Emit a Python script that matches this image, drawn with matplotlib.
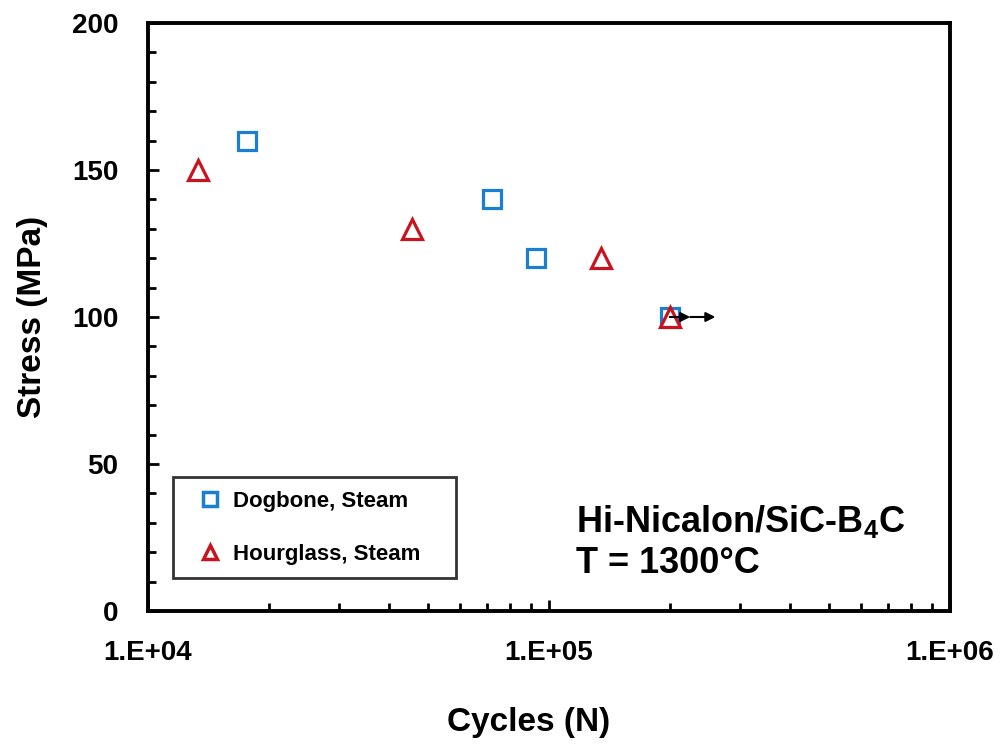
import matplotlib
matplotlib.use("Agg")
import matplotlib.pyplot as plt
from matplotlib.ticker import FixedLocator, NullFormatter, LogLocator

plt.rcParams['font.family'] = ['Liberation Sans', 'DejaVu Sans']
plt.rcParams['font.weight'] = 'bold'
plt.rcParams['mathtext.fontset'] = 'custom'
plt.rcParams['mathtext.rm'] = 'Liberation Sans'
plt.rcParams['mathtext.bf'] = 'Liberation Sans:bold'

# data
dog_cycles = [1.77e4, 7.2e4, 9.3e4, 2.0e5]
dog_stress = [160, 140, 120, 100]
hour_cycles = [1.33e4, 4.55e4, 1.35e5, 2.0e5]
hour_stress = [150, 130, 120, 100]
runout_cycles = [2.0e5, 2.25e5, 2.6e5]
runout_stress = [100, 100, 100]

blue = '#1a7fd0'
red = '#c8141e'

fig = plt.figure(figsize=(10.05, 7.44), dpi=100)
ax = fig.add_axes([148/1005, 1-611/744, 802/1005, 588/744])

ax.plot(dog_cycles, dog_stress, 's', ms=13, mfc='white', mec=blue, mew=2.3,
        linestyle='none', label='Dogbone, Steam', zorder=3)
ax.plot(hour_cycles, hour_stress, '^', ms=15, mfc='white', mec=red, mew=2.3,
        linestyle='none', label='Hourglass, Steam', zorder=4)

# run-out arrows
for i in range(len(runout_cycles) - 1):
    ax.annotate('', xy=(runout_cycles[i+1], runout_stress[i+1]),
                xytext=(runout_cycles[i], runout_stress[i]),
                arrowprops=dict(arrowstyle='-|>', color='black', lw=1.5,
                                mutation_scale=14, shrinkA=0, shrinkB=0),
                zorder=5)

ax.set_xscale('log')
ax.set_xlim(1e4, 1e6)
ax.set_ylim(0, 200)
ax.set_xticks([1e4, 1e5, 1e6])
ax.set_xticklabels(['1.E+04', '1.E+05', '1.E+06'])
ax.xaxis.set_minor_locator(LogLocator(base=10, subs=range(2, 10)))
ax.xaxis.set_minor_formatter(NullFormatter())
ax.set_yticks([0, 50, 100, 150, 200])
ax.yaxis.set_minor_locator(FixedLocator(range(0, 201, 10)))

for s in ax.spines.values():
    s.set_linewidth(2.8)
ax.tick_params(which='major', direction='in', length=8, width=2, labelsize=20)
ax.tick_params(which='minor', direction='in', length=5.5, width=2)
ax.tick_params(axis='x', which='major', pad=21)
ax.tick_params(axis='y', which='major', pad=21.5)

ax.set_xlabel('Cycles (N)', fontsize=24, fontweight='bold', va='center')
ax.xaxis.set_label_coords(0.474, -0.19)
ax.set_ylabel('Stress (MPa)', fontsize=24, fontweight='bold', va='center')
ax.yaxis.set_label_coords(-0.144, 0.5)

leg = ax.legend(loc='lower left', bbox_to_anchor=(0.031, 0.056, 0.353, 0.177),
                mode='expand', frameon=True, fancybox=False, fontsize=16,
                handletextpad=0.0, handlelength=2.1, labelspacing=1.45,
                borderpad=0.6, borderaxespad=0)
leg.get_frame().set_edgecolor('black')
leg.get_frame().set_linewidth(2)
for h in leg.legend_handles:
    h.set_markersize(10)
    h.set_markeredgewidth(2.5)

ax.text(0.534, 0.117, 'Hi-Nicalon/SiC-B$_\\mathbf{4}$C\nT = 1300\u00b0C',
        transform=ax.transAxes, fontsize=26, fontweight='bold',
        va='center', ha='left', linespacing=1.22)

fig.savefig('out.png', dpi=100)
